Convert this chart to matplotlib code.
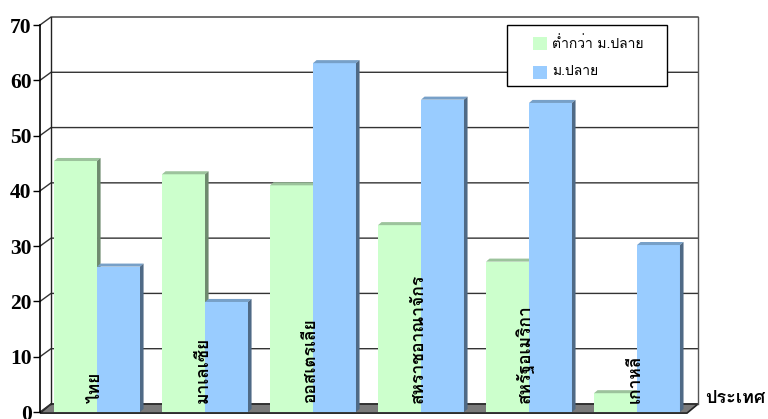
import matplotlib
matplotlib.use("Agg")
import matplotlib.pyplot as plt
from matplotlib import font_manager
from matplotlib.ft2font import FT2Font
from matplotlib.patches import Polygon, Rectangle

# data
countries = ["ไทย", "มาเลเซีย", "ออสเตรเลีย", "สหราชอาณาจักร", "สหรัฐอเมริกา", "เกาหลี"]
below_hs = [45.4, 43.0, 41.0, 33.8, 27.2, 3.4]
hs = [26.3, 19.9, 63.1, 56.5, 55.9, 30.2]
series_names = ["ต่ำกว่า ม.ปลาย", "ม.ปลาย"]
yticks = [0, 10, 20, 30, 40, 50, 60, 70]
xlabel = "ประเทศ"


def thai_font():
    """first installed family that has Thai glyphs"""
    for f in font_manager.fontManager.ttflist:
        try:
            if ord("ก") in FT2Font(f.fname).get_charmap():
                return f.name
        except Exception:
            pass
    return "DejaVu Sans"


TH = [thai_font(), "DejaVu Sans"]

green = ("#ccffcc", "#9cc39c", "#6e8a6e")   # front, top, side
blue = ("#99ccff", "#77a0c8", "#4f6a86")

fig = plt.figure(figsize=(7.68, 4.19), dpi=100)
ax = fig.add_axes([40 / 768, 0, 662 / 768, 402 / 419])
ax.set_xlim(-0.528, 5.602)
ax.set_ylim(-1.266, 71.45)

# depth of the walls and of the bars, in data units
wdx, wdy = 0.102, 1.45
bdx, bdy = 0.033, 0.55
xl, xr = -0.528, 5.463
ytop = yticks[-1]

# floor
ax.add_patch(Polygon([(xl, -0.2), (xr, -0.2), (xr + wdx, wdy), (xl + wdx, wdy)],
                     closed=True, facecolor="#7a7a7a", edgecolor="#222222", lw=1.2, zorder=1, clip_on=False))
# walls + gridlines
for v in yticks:
    ax.plot([xl, xl + wdx, xr + wdx], [v, v + wdy, v + wdy], color="#333333", lw=1, zorder=1.5, clip_on=False)
ax.plot([xl + wdx, xl + wdx], [wdy, ytop + wdy], color="#222222", lw=1, zorder=1.5)
ax.plot([xr + wdx, xr + wdx], [wdy, ytop + wdy], color="#555555", lw=1, zorder=1.5)
ax.plot([xl, xl], [0, ytop], color="black", lw=1.2, zorder=1.6, clip_on=False)


def bar3d(x0, w, h, cols, z):
    ax.bar(x0, h, width=w, align="edge", color=cols[0], lw=0, zorder=z)
    ax.add_patch(Polygon([(x0, h), (x0 + w, h), (x0 + w + bdx, h + bdy), (x0 + bdx, h + bdy)],
                         closed=True, facecolor=cols[1], lw=0, zorder=z))
    ax.add_patch(Polygon([(x0 + w, 0), (x0 + w + bdx, bdy), (x0 + w + bdx, h + bdy), (x0 + w, h)],
                         closed=True, facecolor=cols[2], lw=0, zorder=z))


bw = 0.398
for i in range(len(countries)):
    bar3d(i - bw, bw, below_hs[i], green, 3 + i * 0.1)
    bar3d(i, bw, hs[i], blue, 3.05 + i * 0.1)
    ax.text(i + 0.05, 1.6, countries[i], rotation=90, ha="right", va="bottom",
            fontsize=12.5, fontweight="bold", family=TH, zorder=6)

for s in ax.spines.values():
    s.set_visible(False)
ax.set_xticks([])
ax.set_yticks(yticks)
ax.tick_params(axis="y", direction="out", length=5, width=1, pad=1)
for t in ax.get_yticklabels():
    t.set_fontfamily("Liberation Serif")
    t.set_fontweight("bold")
    t.set_fontsize(15.5)

fig.text(705 / 768, 1 - 398 / 419, xlabel, ha="left", va="center",
         fontsize=13, fontweight="bold", family=TH)

# legend box drawn by hand so its padding matches
fig.patches.append(Rectangle((507 / 768, 1 - 86 / 419), 160 / 768, 61 / 419, transform=fig.transFigure,
                             facecolor="white", edgecolor="black", lw=1, zorder=10))
for k, (name, cols) in enumerate(zip(series_names, (green, blue))):
    yc = 1 - (44 + 28 * k) / 419
    fig.patches.append(Rectangle((533 / 768, yc - 6.5 / 419), 14 / 768, 13 / 419, transform=fig.transFigure,
                                 facecolor=cols[0], lw=0, zorder=11))
    fig.text(552 / 768, yc, name, ha="left", va="center", fontsize=10, family=TH, zorder=12)

fig.savefig("out.png", dpi=100)
